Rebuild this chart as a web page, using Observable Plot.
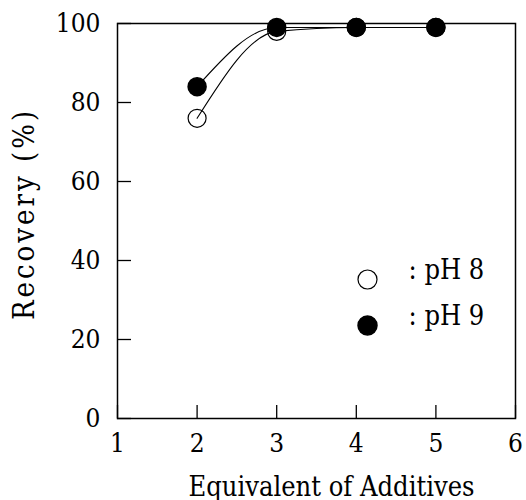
<!DOCTYPE html>
<html><head><meta charset="utf-8">
<script src="https://cdn.jsdelivr.net/npm/d3@7"></script>
<script src="https://cdn.jsdelivr.net/npm/@observablehq/plot@0.6"></script>
<style>
body{margin:0;background:#fff}
</style>
</head><body><div id="chart"></div>
<script>
const equivalents = [2, 3, 4, 5];
const recoveryPH8 = [76, 98, 99, 99];
const recoveryPH9 = [84, 99, 99, 99];
const xTicks = [1, 2, 3, 4, 5, 6];
const yTicks = [0, 20, 40, 60, 80, 100];
const seriesLabels = [": pH 8", ": pH 9"];
const xTitle = "Equivalent of Additives";
const yTitle = "Recovery (%)";

const ph8 = equivalents.map((x, i) => ({x, y: recoveryPH8[i]}));
const ph9 = equivalents.map((x, i) => ({x, y: recoveryPH9[i]}));

const font = "'DejaVu Serif Condensed', 'DejaVu Serif', serif";

const chart = Plot.plot({
  width: 526,
  height: 500,
  marginLeft: 117,
  marginRight: 11,
  marginTop: 23,
  marginBottom: 82,
  style: {background: "white", color: "black", fontFamily: font},
  x: {domain: [1, 6]},
  y: {domain: [0, 100]},
  marks: [
    Plot.frame({stroke: "black", strokeWidth: 1.5}),
    Plot.axisX({ticks: xTicks, tickSize: -13, text: null, label: null, strokeWidth: 1.3}),
    Plot.axisY({ticks: yTicks, tickSize: -14, text: null, label: null, strokeWidth: 1.3}),
    Plot.axisX({ticks: xTicks, tickSize: 0, tickPadding: 15, fontSize: 26, fontFamily: font, label: null, tickFormat: d => String(d)}),
    Plot.axisY({ticks: yTicks, tickSize: 0, tickPadding: 17, fontSize: 26, fontFamily: font, label: null, tickFormat: d => String(d)}),
    Plot.text([xTitle], {frameAnchor: "bottom", dx: 15, dy: 77, lineAnchor: "bottom", textAnchor: "middle", fontSize: 27, fontFamily: font}),
    Plot.text([yTitle], {frameAnchor: "left", rotate: -90, dx: -104, dy: -7, lineAnchor: "top", textAnchor: "middle", fontSize: 29, fontFamily: font}),
    Plot.line(ph8, {x: "x", y: "y", curve: "monotone-x", stroke: "black", strokeWidth: 1.1}),
    Plot.line(ph9, {x: "x", y: "y", curve: "monotone-x", stroke: "black", strokeWidth: 1.1}),
    Plot.dot(ph8, {x: "x", y: "y", r: 9, stroke: "black", strokeWidth: 1.2, fill: "none"}),
    Plot.dot(ph9, {x: "x", y: "y", r: 9, fill: "black", stroke: "black"}),
    Plot.dot([seriesLabels[0]], {frameAnchor: "bottom-right", dx: -148, dy: -139, r: 9.5, stroke: "black", strokeWidth: 1.2, fill: "none"}),
    Plot.dot([seriesLabels[1]], {frameAnchor: "bottom-right", dx: -148, dy: -93, r: 9.5, fill: "black", stroke: "black"}),
    Plot.text([seriesLabels[0]], {text: d => d, frameAnchor: "bottom-right", dx: -107, dy: -140, textAnchor: "start", fontSize: 27, fontFamily: font}),
    Plot.text([seriesLabels[1]], {text: d => d, frameAnchor: "bottom-right", dx: -107, dy: -94, textAnchor: "start", fontSize: 27, fontFamily: font})
  ]
});
d3.select(chart).selectAll("text")
  .filter(function () { return this.textContent === yTitle; })
  .style("letter-spacing", "3px");
document.getElementById("chart").appendChild(chart);
</script>
</body></html>
